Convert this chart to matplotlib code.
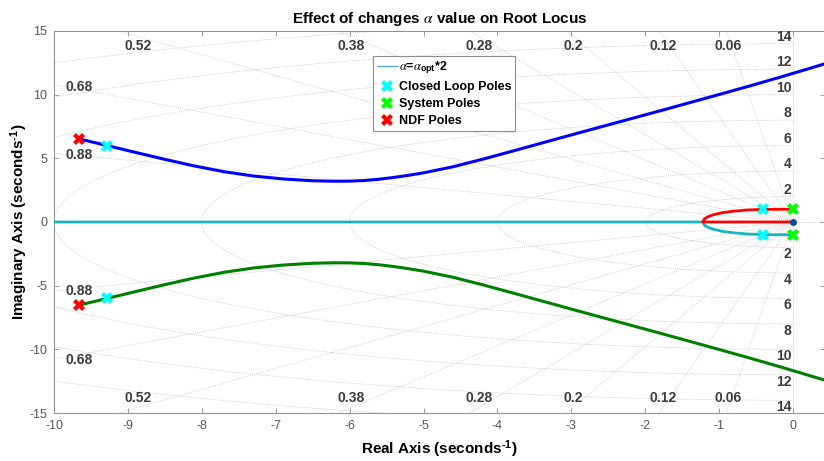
import matplotlib.pyplot as plt
from matplotlib.lines import Line2D
import numpy as np

plt.rcParams['font.family'] = ['Liberation Sans', 'DejaVu Sans']
plt.rcParams['mathtext.fontset'] = 'custom'
plt.rcParams['mathtext.rm'] = 'Liberation Sans:bold'
plt.rcParams['mathtext.bf'] = 'Liberation Sans:bold'
plt.rcParams['mathtext.it'] = 'STIXGeneral:italic'
plt.rcParams['axes.unicode_minus'] = False

# locus branches leaving the NDF poles (upper / lower)
blue_x = [-9.66, -9.28, -8.9, -8.5, -8.1, -7.7, -7.3, -6.9, -6.5, -6.2, -6.0, -5.8, -5.6, -5.4,
          -5.2, -5.0, -4.6, -4.2, -3.8, -3.4, -3.0, -2.6, -2.2, -1.8, -1.4, -1.0, -0.6, -0.2,
          0.2, 0.6]
blue_y = [6.53, 6.00, 5.47, 4.92, 4.40, 3.95, 3.61, 3.38, 3.24, 3.20, 3.21, 3.26, 3.36, 3.50,
          3.67, 3.86, 4.34, 4.93, 5.56, 6.20, 6.84, 7.47, 8.10, 8.73, 9.37, 10.01, 10.66, 11.33,
          12.02, 12.72]
green_x = [-9.66, -9.28, -8.9, -8.5, -8.1, -7.7, -7.3, -6.9, -6.5, -6.2, -6.0, -5.8, -5.6, -5.4,
           -5.2, -5.0, -4.6, -4.2, -3.8, -3.4, -3.0, -2.6, -2.2, -1.8, -1.4, -1.0, -0.6, -0.2,
           0.2, 0.6]
green_y = [-6.53, -6.00, -5.47, -4.92, -4.40, -3.95, -3.61, -3.38, -3.24, -3.20, -3.21, -3.26,
           -3.36, -3.50, -3.67, -3.86, -4.34, -4.93, -5.56, -6.20, -6.84, -7.47, -8.10, -8.73,
           -9.37, -10.01, -10.66, -11.33, -12.02, -12.72]

# branches leaving the system poles, meeting on the real axis
red_x = [0.0, -0.2, -0.4, -0.6, -0.8, -0.95, -1.07, -1.15, -1.2, -1.22, 0.0]
red_y = [1.0, 1.0, 0.99, 0.95, 0.85, 0.74, 0.58, 0.42, 0.24, 0.0, 0.0]
cyan_x = [-10.6, -1.22, -1.2, -1.15, -1.07, -0.95, -0.8, -0.6, -0.4, -0.2, 0.0]
cyan_y = [0.0, 0.0, -0.24, -0.42, -0.58, -0.74, -0.85, -0.95, -0.99, -1.0, -1.0]

# pole locations
cl_re = [-9.28, -9.28, -0.40, -0.40]
cl_im = [6.00, -6.00, 0.99, -0.99]
sys_re = [0.0, 0.0]
sys_im = [1.0, -1.0]
ndf_re = [-9.66, -9.66]
ndf_im = [6.53, -6.53]
zero_re = [0.0]
zero_im = [0.0]

# s-plane grid
zeta = [0.06, 0.12, 0.2, 0.28, 0.38, 0.52, 0.68, 0.88]
wn = [2, 4, 6, 8, 10, 12, 14, 16, 18]

fig = plt.figure(figsize=(8.24, 4.61), dpi=100)
ax = fig.add_axes([54/824, 48/461, 771/824, 382/461])

gridc = '#bcbcbc'
gls = (0, (1, 1.5))
th = np.linspace(np.pi/2, 3*np.pi/2, 300)
for w in wn:
    ax.plot(w*np.cos(th), w*np.sin(th), color=gridc, lw=0.55, ls=gls, zorder=1)
for z in zeta:
    s = np.sqrt(1 - z**2)
    ax.plot([0, -30*z], [0, 30*s], color=gridc, lw=0.55, ls=gls, zorder=1)
    ax.plot([0, -30*z], [0, -30*s], color=gridc, lw=0.55, ls=gls, zorder=1)
ax.axhline(0, color=gridc, lw=0.55, ls=gls, zorder=1)
ax.axvline(0, color=gridc, lw=0.55, ls=gls, zorder=1)

lblc = '#3c3c3c'
for z in zeta:
    t = np.sqrt(1 - z**2)/z
    if 10*t > 15:
        xa = -14.55/t
        ax.text(xa, 14.4, f'{z:g}', ha='center', va='top', fontsize=10,
                fontweight='bold', color=lblc)
        ax.text(xa, -14.4, f'{z:g}', ha='center', va='bottom', fontsize=10,
                fontweight='bold', color=lblc)
    else:
        ya = 10*t
        ax.text(-9.85, ya - 0.15, f'{z:g}', ha='left', va='center', fontsize=10,
                fontweight='bold', color=lblc)
        ax.text(-9.85, -ya - 0.05, f'{z:g}', ha='left', va='center', fontsize=10,
                fontweight='bold', color=lblc)
for w in wn:
    if w < 15:
        ax.text(-0.02, w, str(w), ha='right', va='bottom', fontsize=10,
                fontweight='bold', color=lblc)
        ax.text(-0.02, -w, str(w), ha='right', va='top', fontsize=10,
                fontweight='bold', color=lblc)

ax.plot(cyan_x, cyan_y, color='#17b5bf', lw=2, zorder=3)
ax.plot(red_x, red_y, color='#ff0000', lw=2, zorder=3)
ax.plot(blue_x, blue_y, color='#0000ff', lw=2.2, zorder=3)
ax.plot(green_x, green_y, color='#008000', lw=2.2, zorder=3)
ax.plot(zero_re, zero_im, 'o', color='#0a4f9e', ms=4, zorder=4)

cl, = ax.plot(cl_re, cl_im, 'X', color='#00ffff', ms=8, mew=0, ls='none', zorder=5)
sp, = ax.plot(sys_re, sys_im, 'X', color='#00ff00', ms=8, mew=0, ls='none', zorder=5)
nd, = ax.plot(ndf_re, ndf_im, 'X', color='#ff0000', ms=8, mew=0, ls='none', zorder=5)
locus = Line2D([], [], color='#4d9de0', lw=0.8)

leg = ax.legend([locus, cl, sp, nd],
                [r'$\alpha$=$\alpha_{\mathrm{opt}}$*2', 'Closed Loop Poles', 'System Poles', 'NDF Poles'],
                loc='upper left', bbox_to_anchor=(0.414, 0.935), borderaxespad=0,
                prop={'weight': 'bold', 'size': 9}, handlelength=1.6, handletextpad=0.15,
                borderpad=0.3, labelspacing=0.4, fancybox=False, framealpha=1,
                edgecolor='#8c8c8c')
leg.get_frame().set_linewidth(0.8)

ax.set_xlim(-10, 0.433)
ax.set_ylim(-15, 15)
ax.set_xticks(np.arange(-10, 1, 1))
ax.set_yticks([-15, -10, -5, 0, 5, 10, 15])
ax.tick_params(direction='in', top=True, right=True, length=3.5, width=0.6,
               labelsize=9, colors='#8c8c8c', labelcolor='#555555', pad=5)
for sp_ in ax.spines.values():
    sp_.set_color('#8c8c8c')
    sp_.set_linewidth(0.7)

ax.set_title(r'Effect of changes $\alpha$ value on Root Locus', fontsize=11,
             fontweight='bold', pad=6)
ax.set_xlabel(r'Real Axis (seconds$^{\text{-1}}$)', fontsize=11, fontweight='bold', labelpad=5)
ax.set_ylabel(r'Imaginary Axis (seconds$^{\text{-1}}$)', fontsize=11, fontweight='bold', labelpad=-1)

fig.savefig('out.png', dpi=100)
